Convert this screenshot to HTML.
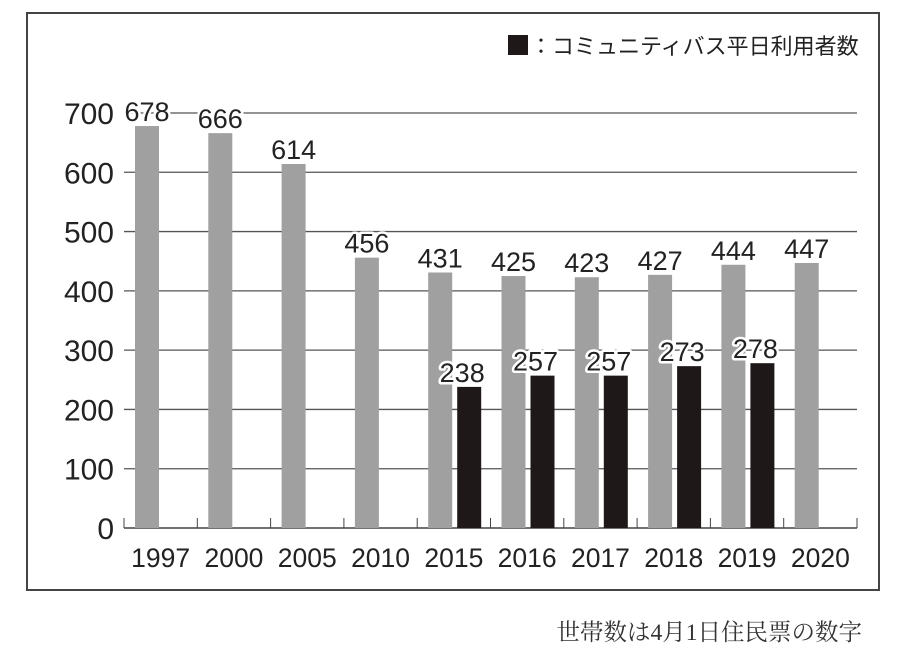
<!DOCTYPE html>
<html><head><meta charset="utf-8"><style>
html,body{margin:0;padding:0;background:#fff;width:900px;height:659px;overflow:hidden}
svg text{font-family:"Liberation Sans","Noto Sans CJK JP",sans-serif}
</style></head><body>
<svg id="chart" width="900" height="659">
<rect x="27" y="13" width="852" height="577" fill="#fff" stroke="#444" stroke-width="2"/>
<g id="grid"></g><g id="bars"></g><g id="labels"></g>
<g>
<rect x="508" y="35" width="20" height="20" fill="#1e1918"/>
<text x="530" y="54" font-size="22" fill="#222">：コミュニティバス平日利用者数</text>
</g>
<text x="862" y="640" text-anchor="end" font-size="23.5" fill="#333" style="font-family:'Liberation Serif','Noto Serif CJK SC',serif">世帯数は4月1日住民票の数字</text>
</svg>
<script>
const categories=["1997","2000","2005","2010","2015","2016","2017","2018","2019","2020"];
const households=[678,666,614,456,431,425,423,427,444,447];
const busUsers=[null,null,null,null,238,257,257,273,278,null];
const yTicks=[0,100,200,300,400,500,600,700];
const NS="http://www.w3.org/2000/svg";
const x0=124,cw=73.3,y0=528,yScale=(113-528)/700;
const X=i=>x0+i*cw, Y=v=>y0+v*yScale;
function mk(t,a,p){const e=document.createElementNS(NS,t);for(const k in a)e.setAttribute(k,a[k]);p.appendChild(e);return e;}
const grid=document.getElementById('grid'),bars=document.getElementById('bars'),labels=document.getElementById('labels');
yTicks.forEach(v=>{
 if(v>0){const l=mk('line',{x1:x0,x2:X(categories.length),y1:Y(v),y2:Y(v),stroke:'#555','stroke-width':1.3},grid);
 
 }
 const t=mk('text',{x:114,y:Y(v)+11,'text-anchor':'end','font-size':30,fill:'#222'},grid);t.textContent=v;
 
 
});
const ax=mk('line',{x1:x0,x2:X(categories.length),y1:y0,y2:y0,stroke:'#444','stroke-width':1.5},grid);


for(let i=0;i<=categories.length;i++){const t=mk('line',{x1:X(i),x2:X(i),y1:y0-10,y2:y0,stroke:'#444','stroke-width':1},grid);
 
 }
function lab(x,y,s){const t=mk('text',{x:x,y:y,'text-anchor':'middle','font-size':27,fill:'#222',stroke:'#fff','stroke-width':5,'paint-order':'stroke','stroke-linejoin':'round'},labels);t.textContent=s;
 
 }
categories.forEach((c,i)=>{
 const h=households[i];
 const r=mk('rect',{x:X(i)+11,y:Y(h),width:24,height:y0-Y(h),fill:'#a0a0a0'},bars);
 
 
 lab(X(i)+23,Y(h)-5,h);
 const b=busUsers[i];
 if(b!=null){const r2=mk('rect',{x:X(i)+40,y:Y(b),width:24,height:y0-Y(b),fill:'#1e1918'},bars);
  
  
  lab(X(i)+45,Y(b)-5,b);}
 const t=mk('text',{x:X(i)+cw/2,y:567,'text-anchor':'middle','font-size':26.5,fill:'#222'},labels);t.textContent=c;
 
 
});
</script>
</body></html>
